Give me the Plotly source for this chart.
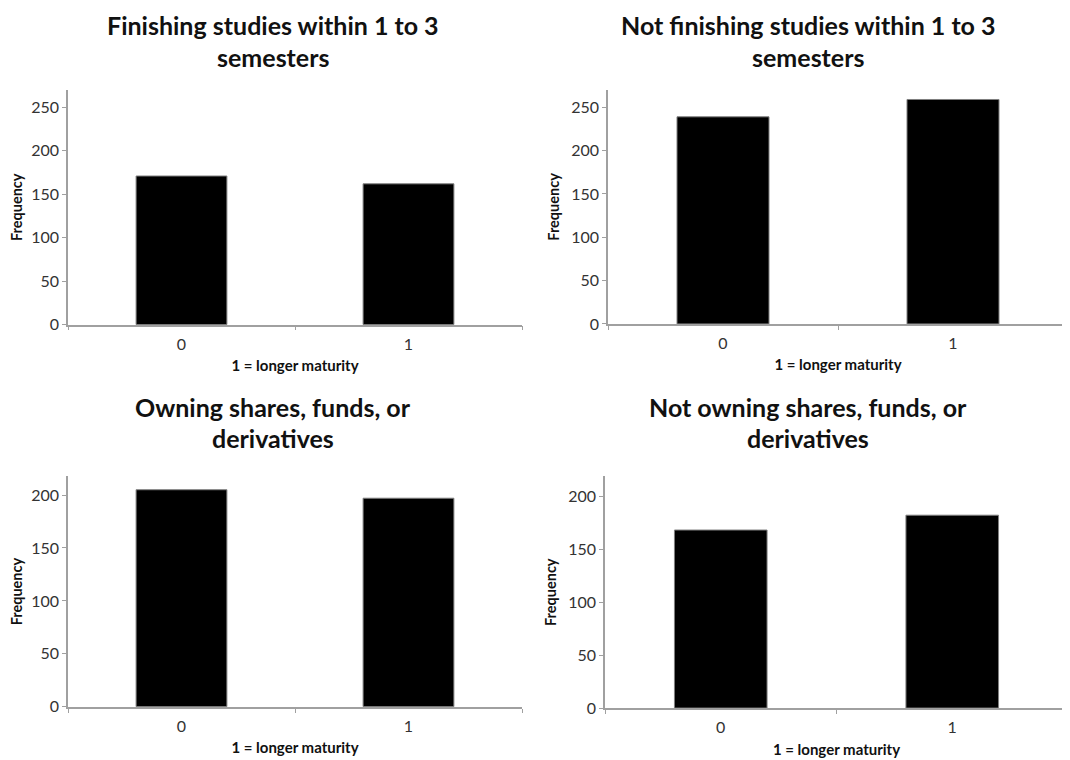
import plotly.graph_objects as go

categories = ["0", "1"]
titles = [
    "Finishing studies within 1 to 3<br>semesters",
    "Not finishing studies within 1 to 3<br>semesters",
    "Owning shares, funds, or<br>derivatives",
    "Not owning shares, funds, or<br>derivatives",
]
values_finishing = [171, 162]
values_not_finishing = [239, 259]
values_owning = [205, 197]
values_not_owning = [168, 182]
y_ticks = [0, 50, 100, 150, 200, 250]
x_title = "1 = longer maturity"
y_title = "Frequency"

W, H = 1070, 760
OFF = 8          # page body margin
KY = 760 / 768   # vertical scale seen in the captured picture
series = [values_finishing, values_not_finishing, values_owning, values_not_owning]
# panel boxes in picture pixels: x0, x1, y_zero, y_top, ymax
boxes = [
    (68, 522, 325, 90, 270),
    (608, 1068, 324.3, 90, 270),
    (68, 522, 707.7, 477, 217.6),
    (605, 1068, 709, 477, 218.6),
]
# title line centres (picture pixels)
title_x = [273, 808, 273, 808]
title_y = [(24.5, 57), (24.5, 57), (407, 439), (407, 439)]


def px(v):
    return (v - OFF) / W


def py(v):
    return 1 - (v / KY - OFF) / H


fig = go.Figure()
FONT = "Lato"
for i, (vals, box) in enumerate(zip(series, boxes)):
    n = i + 1
    xa = "x" if n == 1 else f"x{n}"
    ya = "y" if n == 1 else f"y{n}"
    fig.add_trace(go.Bar(
        x=categories, y=vals, xaxis=xa, yaxis=ya,
        marker=dict(color="black", line=dict(color="#7f7f7f", width=1)),
        showlegend=False, hoverinfo="x+y",
    ))
    x0, x1, yz, yt, ymax = box
    xkey = "xaxis" if n == 1 else f"xaxis{n}"
    ykey = "yaxis" if n == 1 else f"yaxis{n}"
    fig.update_layout(**{
        xkey: dict(
            domain=[px(x0), min(px(x1), 1)], anchor=ya, type="category",
            range=[-0.5, 1.5], showline=True, linecolor="#a0a0a0", linewidth=1.5,
            ticks="outside", tickson="boundaries", ticklen=4, tickcolor="#a0a0a0",
            tickfont=dict(family=FONT, size=16, color="#333333"), ticklabelstandoff=4,
            showgrid=False, zeroline=False,
            title=dict(text=f"<b>{x_title}</b>", font=dict(family=FONT, size=15, color="#111111"), standoff=9),
        ),
        ykey: dict(
            domain=[py(yz), py(yt)], anchor=xa,
            range=[0, ymax], tickvals=y_ticks, showline=True, linecolor="#a0a0a0", linewidth=1.5,
            ticks="outside", ticklen=4, tickcolor="#a0a0a0",
            tickfont=dict(family=FONT, size=16, color="#333333"),
            showgrid=False, zeroline=False,
            title=dict(text=f"<b>{y_title}</b>", font=dict(family=FONT, size=14.5, color="#111111"), standoff=8),
        ),
    })
    for line_text, ty in zip(titles[i].split("<br>"), title_y[i]):
        fig.add_annotation(
            x=px(title_x[i]), y=py(ty), xref="paper", yref="paper", xanchor="center", yanchor="middle",
            text=f"<b>{line_text}</b>", showarrow=False, borderpad=0,
            font=dict(family=FONT, size=25, color="#111111"),
        )

fig.update_layout(
    width=W, height=H, margin=dict(l=0, r=0, t=0, b=0),
    paper_bgcolor="white", plot_bgcolor="white",
    bargap=0.6,
)
fig.write_html("out.html")
